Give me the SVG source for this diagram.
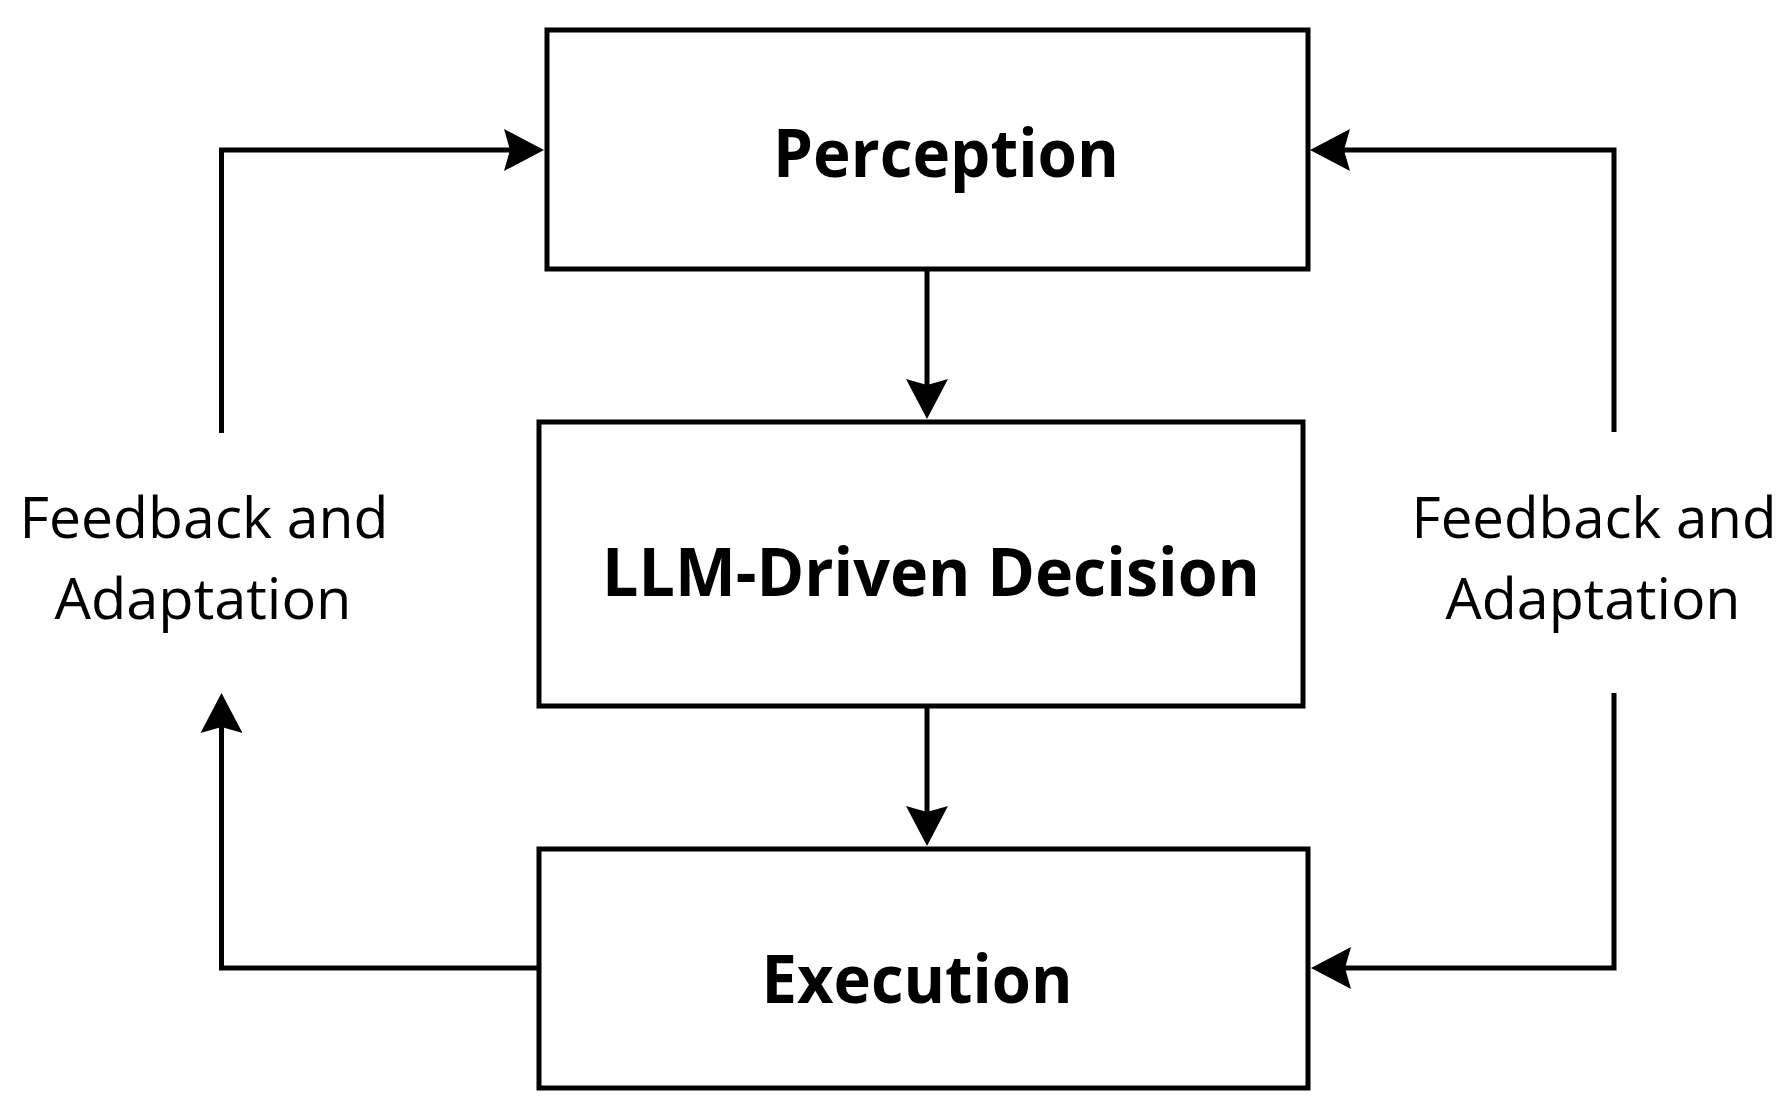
<svg xmlns="http://www.w3.org/2000/svg" width="1791" height="1114" viewBox="0 0 1791 1114">
<style>
.box{fill:#fff;stroke:#000;stroke-width:5}
.conn{fill:none;stroke:#000;stroke-width:5;stroke-linejoin:miter}
.title{font-family:"Open Sans","Noto Sans",sans-serif;font-weight:bold;font-size:66px;fill:#000;text-anchor:middle}
.lbl{font-family:"Open Sans","Noto Sans",sans-serif;font-size:57px;fill:#000;text-anchor:middle}
</style>
<defs>
<marker id="ah" markerUnits="userSpaceOnUse" markerWidth="44" markerHeight="46" viewBox="0 -23 44 46" refX="6" refY="0" orient="auto">
<path d="M40,0 L0,-21 L6,0 L0,21 Z" fill="#000"/>
</marker>
</defs>
<rect width="1791" height="1114" fill="#fff"/>
<g id="connectors">
<path class="conn" d="M221.5,433 V150 H510" marker-end="url(#ah)"/>
<path class="conn" d="M1614,432 V150 H1344" marker-end="url(#ah)"/>
<path class="conn" d="M927,270 V385" marker-end="url(#ah)"/>
<path class="conn" d="M927,706 V812" marker-end="url(#ah)"/>
<path class="conn" d="M537,968 H221.5 V727" marker-end="url(#ah)"/>
<path class="conn" d="M1614,693 V968 H1345" marker-end="url(#ah)"/>
</g>
<g id="perception">
<rect class="box" x="547" y="30" width="761" height="239"/>
<text class="title" x="946" y="177" textLength="346" lengthAdjust="spacingAndGlyphs">Perception</text>
</g>
<g id="llm-decision">
<rect class="box" x="539" y="422" width="764" height="284"/>
<text class="title" x="931" y="596" textLength="658" lengthAdjust="spacingAndGlyphs">LLM-Driven Decision</text>
</g>
<g id="execution">
<rect class="box" x="539" y="849" width="769" height="239"/>
<text class="title" x="917" y="1003" textLength="311" lengthAdjust="spacingAndGlyphs">Execution</text>
</g>
<g id="feedback-left">
<text class="lbl" x="204" y="538" textLength="369" lengthAdjust="spacingAndGlyphs">Feedback and</text>
<text class="lbl" x="203" y="619" textLength="297" lengthAdjust="spacingAndGlyphs">Adaptation</text>
</g>
<g id="feedback-right">
<text class="lbl" x="1594" y="538" textLength="365" lengthAdjust="spacingAndGlyphs">Feedback and</text>
<text class="lbl" x="1593" y="619" textLength="295" lengthAdjust="spacingAndGlyphs">Adaptation</text>
</g>
</svg>
